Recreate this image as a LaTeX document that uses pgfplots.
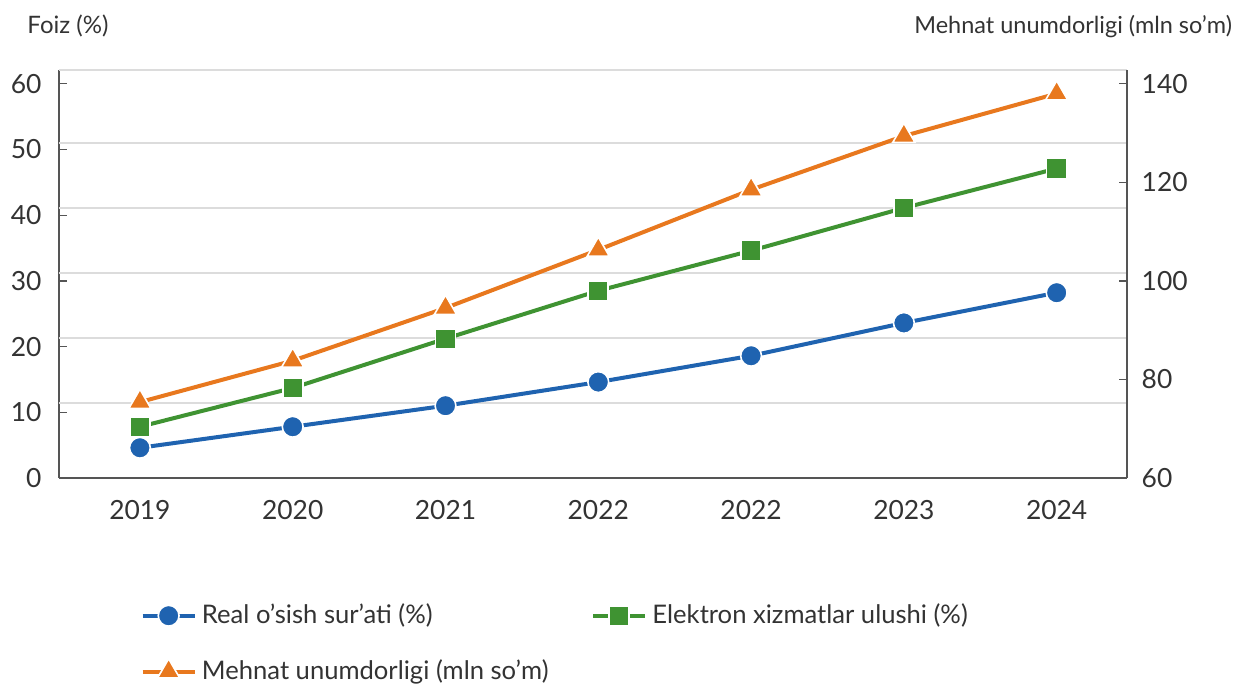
\documentclass[border=0pt]{standalone}
\usepackage{pgfplots}
\pgfplotsset{compat=1.18}
\usepackage{fontspec}
\setmainfont{Lato}

\definecolor{cblue}{HTML}{1F63B0}
\definecolor{cgreen}{HTML}{3F9332}
\definecolor{corange}{HTML}{E8781E}
\definecolor{cgrid}{HTML}{DCDCDC}
\definecolor{caxis}{HTML}{555555}
\definecolor{ctext}{HTML}{333333}

\pgfplotsset{
  common/.style={
    scale only axis,
    width=400.5pt, height=153pt,
    xmin=-0.53, xmax=6.46,
    font=\fontsize{9.9}{12}\selectfont\color{ctext},
    /pgf/number format/assume math mode=true,
    tick align=inside,
    major tick length=3pt,
    tick style={caxis, line width=0.5pt},
  },
  ser/.style={line width=1.5pt, color=#1, mark options={solid, fill=#1, draw=white, line width=0.6pt}},
}

\begin{document}
\begin{tikzpicture}
\begin{axis}[common,
  axis x line*=bottom, axis y line*=left,
  axis line style={caxis, line width=0.6pt},
  ymin=0, ymax=62.1,
  ytick={0,10,...,60},
  xtick={0,...,6},
  xticklabels={2019,2020,2021,2022,2022,2023,2024},
  x tick style={draw=none},
  xticklabel style={yshift=-5pt},
  yticklabel style={xshift=-3pt},
  extra y ticks={11.4,21.3,31.2,41.1,51.0,62.1},
  extra y tick labels={},
  extra y tick style={grid=major, major tick length=0pt, grid style={cgrid, line width=0.6pt}},
  legend columns=2,
  legend cell align=left,
  legend style={at={(0.076,-0.294)}, anchor=north west, draw=none, fill=none,
    inner sep=0pt, row sep=8pt,
    /tikz/every even column/.append style={column sep=14pt},
    font=\fontsize{9.6}{12}\selectfont\color{ctext}},
  legend image code/.code={\draw[mark repeat=2, mark phase=2] plot coordinates {(0pt,0pt) (9.75pt,0pt) (19.5pt,0pt)};},
]
\coordinate (SW) at (rel axis cs:0,0);
\coordinate (NE) at (rel axis cs:1,1);
\addplot[ser=cblue, mark=*, mark size=3.9pt] coordinates {
  (0,4.6) (1,7.8) (2,11.0) (3,14.6) (4,18.6) (5,23.6) (6,28.2)};
\addlegendentry{Real o’sish sur’ati (\%)}
\addplot[ser=cgreen, mark=square*, mark size=3.75pt] coordinates {
  (0,7.8) (1,13.7) (2,21.2) (3,28.5) (4,34.6) (5,41.1) (6,47.1)};
\addlegendentry{Elektron xizmatlar ulushi (\%)}
\addlegendimage{ser=corange, mark=triangle*, mark size=4.8pt}
\addlegendentry{Mehnat unumdorligi (mln so’m)}
\end{axis}
\begin{axis}[common,
  axis x line=none, axis y line*=right,
  axis line style={caxis, line width=0.6pt},
  ymin=60, ymax=142.8,
  ytick={60,80,...,140},
  yticklabel style={xshift=2pt},
]
\addplot[ser=corange, mark=triangle*, mark size=4.8pt] coordinates {
  (0,75.4) (1,83.8) (2,94.5) (3,106.3) (4,118.5) (5,129.4) (6,138.0)};
\end{axis}
\node[anchor=base west, font=\fontsize{9}{11}\selectfont, text=ctext, inner sep=0pt]
  at ([shift={(-12pt,13.5pt)}]SW |- NE) {Foiz (\%)};
\node[anchor=base east, font=\fontsize{8.8}{11}\selectfont, text=ctext, inner sep=0pt]
  at ([shift={(39.6pt,13.5pt)}]NE) {Mehnat unumdorligi (mln so’m)};
\path ([shift={(-22.1pt,-77.25pt)}]SW) rectangle ([shift={(40.9pt,26.25pt)}]NE);
\end{tikzpicture}
\end{document}
